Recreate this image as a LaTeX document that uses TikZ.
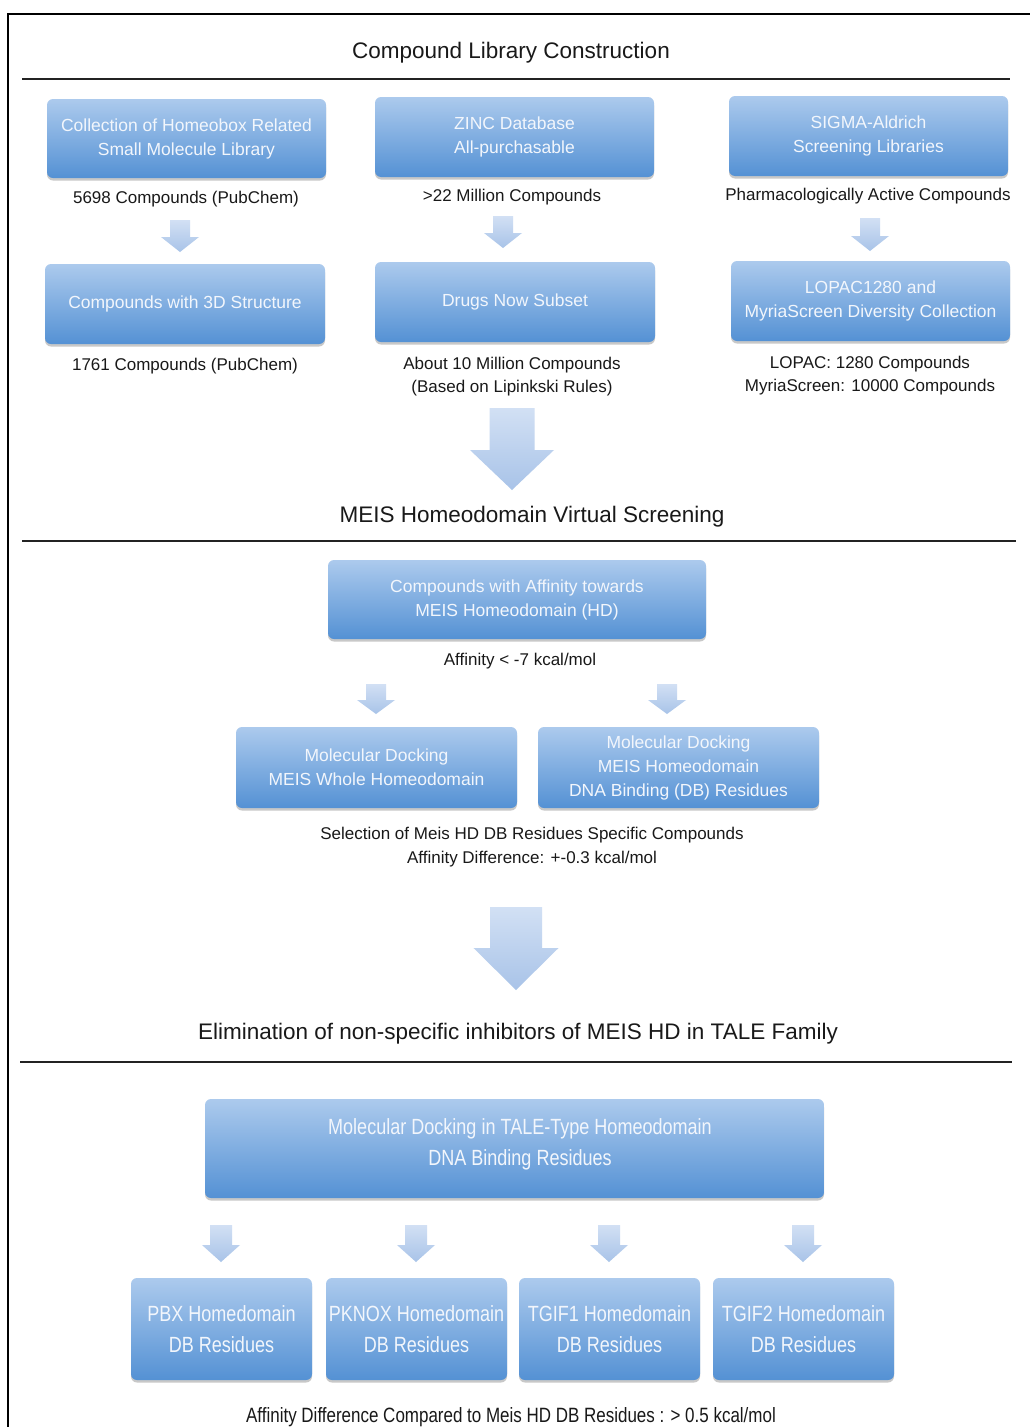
\documentclass[tikz,border=0pt]{standalone}
\usepackage{fontspec}
\setmainfont{Liberation Sans}
\newfontfamily\condfont[FakeStretch=0.82]{Liberation Sans}
\usetikzlibrary{shadows}
\definecolor{boxtop}{RGB}{172,202,237}
\definecolor{boxbot}{RGB}{84,145,212}
\definecolor{arrtop}{RGB}{210,224,244}
\definecolor{arrbot}{RGB}{168,195,232}
\definecolor{boxtxt}{RGB}{242,246,252}
\definecolor{rulec}{RGB}{35,35,35}
\definecolor{txtc}{RGB}{25,25,25}
\newcommand{\myarrow}[7]{% cx, top, shaft half, head half, head start, tip
  \shade[top color=arrtop, bottom color=arrbot] (#1-#3,#2) -- (#1+#3,#2) -- (#1+#3,#5) -- (#1+#4,#5) -- (#1,#6) -- (#1-#4,#5) -- (#1-#3,#5) -- cycle;}
\begin{document}
\begin{tikzpicture}[x=1pt,y=-1pt,
  bx/.style={rounded corners=6pt, top color=boxtop, bottom color=boxbot, text=boxtxt, align=center, inner sep=0pt,
    font=\fontsize{17.5}{24}\selectfont,
    drop shadow={shadow xshift=0pt, shadow yshift=-2.5pt, opacity=0.3, fill=black!70}},
  bxc/.style={bx, font=\condfont\fontsize{22}{30.5}\selectfont},
  ttl/.style={text=txtc, inner sep=0pt, font=\fontsize{22.5}{27}\selectfont},
  captxt/.style={text=txtc, inner sep=0pt, align=center, font=\fontsize{17}{23.5}\selectfont},
  captxtc/.style={text=txtc, inner sep=0pt, align=center, font=\condfont\fontsize{20.7}{24}\selectfont},
  rulel/.style={draw=rulec, line width=2pt},
  framel/.style={draw=black, line width=2pt}]
\useasboundingbox (0,0) rectangle (1030,1427);
\fill[white] (0,0) rectangle (1030,1427);
% frame
\draw[framel] (8,1427) -- (8,14) -- (1030,14);

% ---- Section 1
\node[ttl] (t1) at (511,53) {Compound Library Construction};
\draw[rulel] (22,79) -- (1010,79);

\node[bx, minimum width=279pt, minimum height=79pt] (A) at (186.5,138.5) {Collection of Homeobox Related\\Small Molecule Library};
\node[bx, minimum width=279pt, minimum height=80pt] (B) at (514.5,137) {ZINC Database\\All-purchasable};
\node[bx, minimum width=279pt, minimum height=80pt] (C) at (868.5,136) {SIGMA-Aldrich\\Screening Libraries};

\node[captxt] (ca) at (186,199) {5698 Compounds (PubChem)};
\node[captxt] (cb) at (512,197) {>22 Million Compounds};
\node[captxt] (cc) at (868,196) {Pharmacologically Active Compounds};

\myarrow{180}{220}{10}{19}{237}{252}{}
\myarrow{503}{216}{10}{19}{233}{248}{}
\myarrow{870}{218}{10}{19}{236}{251}{}

\node[bx, minimum width=280pt, minimum height=80pt] (D) at (185,304) {Compounds with 3D Structure};
\node[bx, minimum width=280pt, minimum height=80pt] (E) at (515,302) {Drugs Now Subset};
\node[bx, minimum width=279pt, minimum height=80pt] (F) at (870.5,301) {LOPAC1280 and\\MyriaScreen Diversity Collection};

\node[captxt] (cd) at (185,366) {1761 Compounds (PubChem)};
\node[captxt] (ce) at (512,376.5) {About 10 Million Compounds\\(Based on Lipinkski Rules)};
\node[captxt] (cf) at (870,375.5) {LOPAC: 1280 Compounds\\MyriaScreen: 10000 Compounds};

\myarrow{512}{408}{22.5}{42}{450}{490}{}

% ---- Section 2
\node[ttl] (t2) at (532,517) {MEIS Homeodomain Virtual Screening};
\draw[rulel] (22,541) -- (1016,541);

\node[bx, minimum width=378pt, minimum height=79pt] (G) at (517,599.5) {Compounds with Affinity towards\\MEIS Homeodomain (HD)};
\node[captxt] (cg) at (520,661) {Affinity < -7 kcal/mol};

\myarrow{376}{684}{10}{19}{700}{714}{}
\myarrow{667}{684}{10}{19}{700}{714}{}

\node[bx, minimum width=281pt, minimum height=81pt] (H) at (376.5,767.5) {Molecular Docking\\MEIS Whole Homeodomain};
\node[bx, minimum width=281pt, minimum height=81pt] (I) at (678.5,767.5) {Molecular Docking\\MEIS Homeodomain\\DNA Binding (DB) Residues};

\node[captxt] (ch) at (532,847) {Selection of Meis HD DB Residues Specific Compounds\\Affinity Difference: +-0.3 kcal/mol};

\myarrow{516}{907}{26}{42.5}{948}{990}{}

% ---- Section 3
\node[ttl] (t3) at (518,1034) {Elimination of non-specific inhibitors of MEIS HD in TALE Family};
\draw[rulel] (20,1062) -- (1012,1062);

\node[bxc, minimum width=619pt, minimum height=99pt] (J) at (514.5,1148.5) {};
\node[text=boxtxt, align=center, inner sep=0pt, font=\condfont\fontsize{22}{30.5}\selectfont] (Jt) at (520,1144.5) {Molecular Docking in TALE-Type Homeodomain\\DNA Binding Residues};

\myarrow{221}{1225}{11}{19}{1245}{1262}{}
\myarrow{416}{1225}{11}{19}{1245}{1262}{}
\myarrow{609}{1225}{11}{19}{1245}{1262}{}
\myarrow{803}{1225}{11}{19}{1245}{1262}{}

\node[bxc, minimum width=181pt, minimum height=102pt] (K1) at (221.5,1329) {PBX Homedomain\\DB Residues};
\node[bxc, minimum width=181pt, minimum height=102pt] (K2) at (416.5,1329) {PKNOX Homedomain\\DB Residues};
\node[bxc, minimum width=181pt, minimum height=102pt] (K3) at (609.5,1329) {TGIF1 Homedomain\\DB Residues};
\node[bxc, minimum width=181pt, minimum height=102pt] (K4) at (803.5,1329) {TGIF2 Homedomain\\DB Residues};

\node[captxtc] (ck) at (511,1417) {Affinity Difference Compared to Meis HD DB Residues : > 0.5 kcal/mol};
\end{tikzpicture}
\end{document}
